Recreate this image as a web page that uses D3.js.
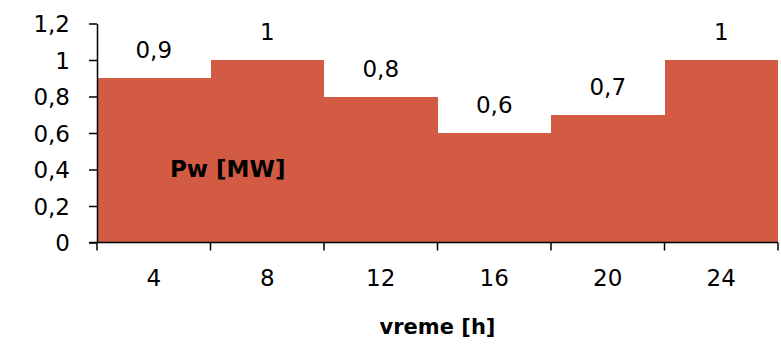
<!DOCTYPE html>
<html>
<head>
<meta charset="utf-8">
<script src="https://cdn.jsdelivr.net/npm/d3@7"></script>
<style>
  body { margin: 0; background: #fff; }
  text { font-family: "DejaVu Sans", sans-serif; fill: #000; }
</style>
</head>
<body>
<div id="chart"></div>
<script>
// data
var hours = ["4", "8", "12", "16", "20", "24"];
var power = [0.9, 1, 0.8, 0.6, 0.7, 1];
var yTicks = [0, 0.2, 0.4, 0.6, 0.8, 1, 1.2];

var width = 781, height = 347;
var plotLeft = 97, plotRight = 778, plotTop = 23.5, plotBottom = 242.5;

var svg = d3.select("#chart").append("svg")
    .attr("width", width)
    .attr("height", height);

var fmt = function(v) { return String(v).replace(".", ","); };

var x = d3.scaleBand().domain(hours).range([plotLeft, plotRight]).padding(0);
var y = d3.scaleLinear().domain([0, 1.2]).range([plotBottom, plotTop]);

// bars, touching each other
svg.selectAll("rect.bar")
    .data(power)
    .enter().append("rect")
    .attr("class", "bar")
    .attr("x", function(d, i) { return x(hours[i]); })
    .attr("width", x.bandwidth())
    .attr("y", function(d) { return y(d); })
    .attr("height", function(d) { return plotBottom - y(d); })
    .attr("fill", "#d35b43")
    .attr("shape-rendering", "crispEdges");

// value labels above the bars
svg.selectAll("text.val")
    .data(power)
    .enter().append("text")
    .attr("class", "val")
    .attr("x", function(d, i) { return x(hours[i]) + x.bandwidth() / 2; })
    .attr("y", function(d) { return y(d) - 20; })
    .attr("text-anchor", "middle")
    .style("font-size", "23px")
    .text(function(d) { return fmt(d); });

// y axis
var yAxis = svg.append("g")
    .attr("transform", "translate(" + plotLeft + ",0)")
    .call(d3.axisLeft(y).tickValues(yTicks).tickFormat(fmt).tickSize(8).tickSizeOuter(0).tickPadding(19));
yAxis.selectAll("text").style("font-size", "23px").attr("dy", "0.36em");

// x axis, ticks on the category borders
var xAxis = svg.append("g")
    .attr("transform", "translate(0," + plotBottom + ")")
    .call(d3.axisBottom(x).tickSize(0).tickPadding(27));
xAxis.select(".domain").remove();
xAxis.selectAll("text").style("font-size", "23px").attr("dy", "0.71em");

var borders = hours.map(function(h) { return x(h); }).concat([plotRight]);
svg.selectAll("line.xtick")
    .data(borders)
    .enter().append("line")
    .attr("class", "xtick")
    .attr("x1", function(d) { return d; })
    .attr("x2", function(d) { return d; })
    .attr("y1", plotBottom)
    .attr("y2", plotBottom + 8)
    .attr("stroke", "#000")
    .attr("stroke-width", 1.5);

svg.append("line")
    .attr("x1", plotLeft - 8).attr("x2", plotRight)
    .attr("y1", plotBottom).attr("y2", plotBottom)
    .attr("stroke", "#000").attr("stroke-width", 1.5);

svg.selectAll(".domain, .tick line").attr("stroke", "#000").attr("stroke-width", 1.5);

// series name inside the bars
svg.append("text")
    .attr("x", 170)
    .attr("y", 177)
    .style("font-size", "23px")
    .style("font-weight", "bold")
    .text("Pw [MW]");

// x axis title
svg.append("text")
    .attr("x", (plotLeft + plotRight) / 2)
    .attr("y", 334)
    .attr("text-anchor", "middle")
    .style("font-size", "21px")
    .style("font-weight", "bold")
    .text("vreme [h]");
</script>
</body>
</html>
